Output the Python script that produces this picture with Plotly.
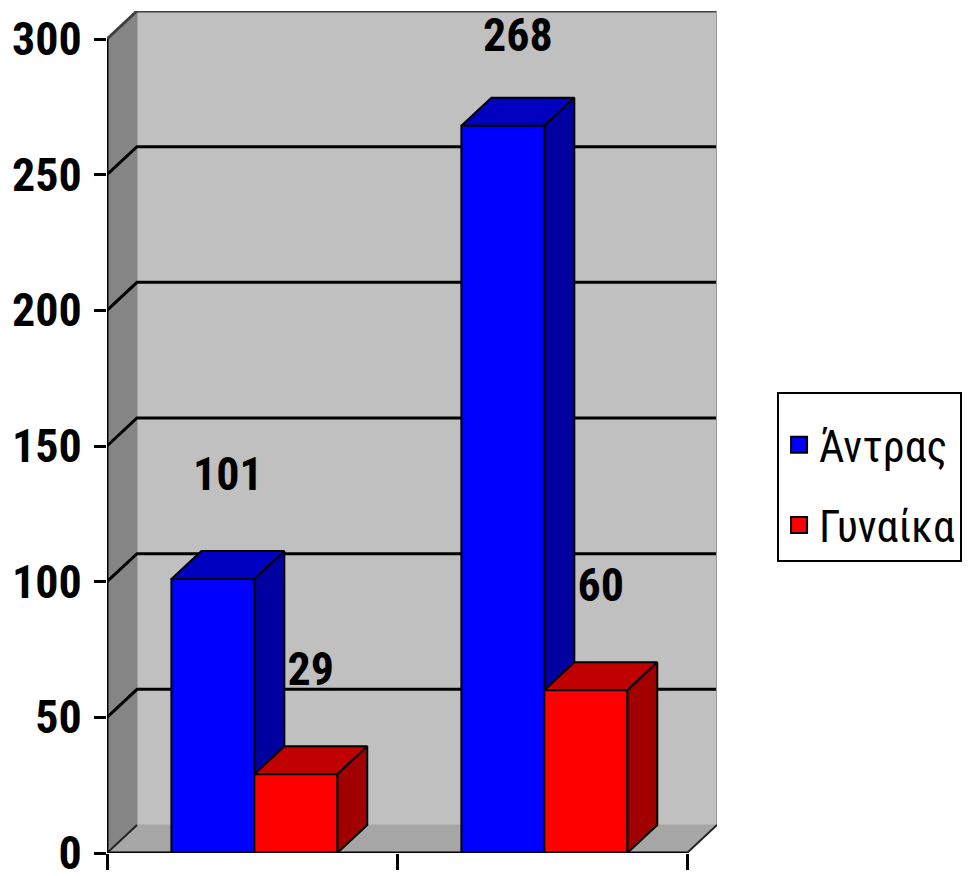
import plotly.graph_objects as go

# ---- data ----
categories = ["Κατηγορία 1", "Κατηγορία 2"]
series_names = ["Άντρας", "Γυναίκα"]
men = [101, 268]
women = [29, 60]
y_ticks = [0, 50, 100, 150, 200, 250, 300]

# ---- styling ----
FONT = "Roboto Condensed, Open Sans, sans-serif"
front_colors = ["#0000FF", "#FF0000"]
top_colors = ["#0000C0", "#C00000"]
side_colors = ["#0000A0", "#A00000"]

DX = 0.10345   # 3D depth offset in x units
DY = 10.32     # 3D depth offset in y units
YMAX = y_ticks[-1]
XMAX = len(categories)
GAP = 0.222
BW = 0.286
LABEL_OFF = 32

fig = go.Figure()


def poly(xs, ys, fill, line_color=None, lw=1):
    fig.add_trace(go.Scatter(
        x=list(xs) + [xs[0]], y=list(ys) + [ys[0]], mode="lines",
        fill="toself", fillcolor=fill,
        line=dict(color=line_color or fill, width=lw),
        hoverinfo="skip", showlegend=False))


def line(xs, ys, color, lw, dash="solid"):
    fig.add_trace(go.Scatter(
        x=xs, y=ys, mode="lines", line=dict(color=color, width=lw, dash=dash),
        hoverinfo="skip", showlegend=False))


# walls
poly([DX, XMAX + DX, XMAX + DX, DX], [DY, DY, YMAX + DY, YMAX + DY], "#C0C0C0")
poly([0, 0, DX, DX], [0, YMAX, YMAX + DY, DY], "#858585")
poly([0, XMAX, XMAX + DX, DX], [0, 0, DY, DY], "#A6A6A6")

# gridlines and wall edges
line([0, DX], [0, DY], "#222222", 2)
for v in y_ticks[1:-1]:
    line([0, DX, XMAX + DX], [v, v + DY, v + DY], "#000000", 3)
line([0, DX, XMAX + DX], [YMAX, YMAX + DY, YMAX + DY], "#404040", 3)
line([XMAX + DX, XMAX + DX], [DY, YMAX + DY], "#999999", 2)
line([XMAX, XMAX + DX], [0, DY], "#222222", 2)

# 3D bars (top, side, front faces)
series_vals = [men, women]
for i in range(len(categories)):
    for s, vals in enumerate(series_vals):
        v = vals[i]
        x0 = i + GAP + s * BW
        x1 = x0 + BW
        poly([x0, x1, x1 + DX, x0 + DX], [v, v, v + DY, v + DY], top_colors[s], "#000000", 2)
        poly([x1, x1 + DX, x1 + DX, x1], [0, DY, v + DY, v], side_colors[s], "#000000", 2)
        poly([x0, x1, x1, x0], [0, 0, v, v], front_colors[s], "#000000", 2)

# axis lines
line([0, 0], [0, YMAX], "#000000", 3)
line([0, XMAX], [0, 0], "#000000", 3)

# data labels (kept inside the chart area)
for s, vals in enumerate(series_vals):
    xs = [i + GAP + s * BW + BW / 2 + DX / 2 for i in range(len(categories))]
    ys = [min(v + DY / 2 + LABEL_OFF, YMAX) for v in vals]
    fig.add_trace(go.Scatter(
        x=xs, y=ys, mode="text", text=[str(v) for v in vals],
        textfont=dict(family=FONT, size=46, color="#000000", weight="bold"),
        textposition="middle center", cliponaxis=False,
        hoverinfo="skip", showlegend=False))

# legend entries
for s, name in enumerate(series_names):
    fig.add_trace(go.Scatter(
        x=[None], y=[None], mode="markers", name=name, legendgroup=name,
        marker=dict(symbol="square", size=16, color=front_colors[s],
                    line=dict(color="#000000", width=2))))

fig.update_layout(
    width=975, height=876,
    margin=dict(l=107, r=258, t=11, b=23, pad=0),
    plot_bgcolor="white", paper_bgcolor="white",
    showlegend=True,
    legend=dict(xref="container", yref="container", x=0.797, y=0.5525,
                xanchor="left", yanchor="top",
                bordercolor="#000000", borderwidth=2, bgcolor="white",
                font=dict(family=FONT, size=44, color="#000000"),
                title=dict(text="\u00a0", font=dict(size=12)),
                tracegroupgap=20, itemsizing="trace"),
    xaxis=dict(range=[0, XMAX + DX], showgrid=False, zeroline=False, automargin=False,
               showline=False, tickvals=list(range(XMAX + 1)),
               ticktext=[""] * (XMAX + 1), ticks="outside", ticklen=16,
               tickwidth=3, tickcolor="#000000"),
    yaxis=dict(range=[0, YMAX + DY], showgrid=False, zeroline=False, automargin=False,
               showline=False, tickvals=y_ticks, ticks="outside",
               ticklen=12, tickwidth=3, tickcolor="#000000", ticklabeloverflow="allow",
               tickfont=dict(family=FONT, size=46, color="#000000", weight="bold"),
               ticklabelstandoff=3),
)

fig.write_html("out.html")
